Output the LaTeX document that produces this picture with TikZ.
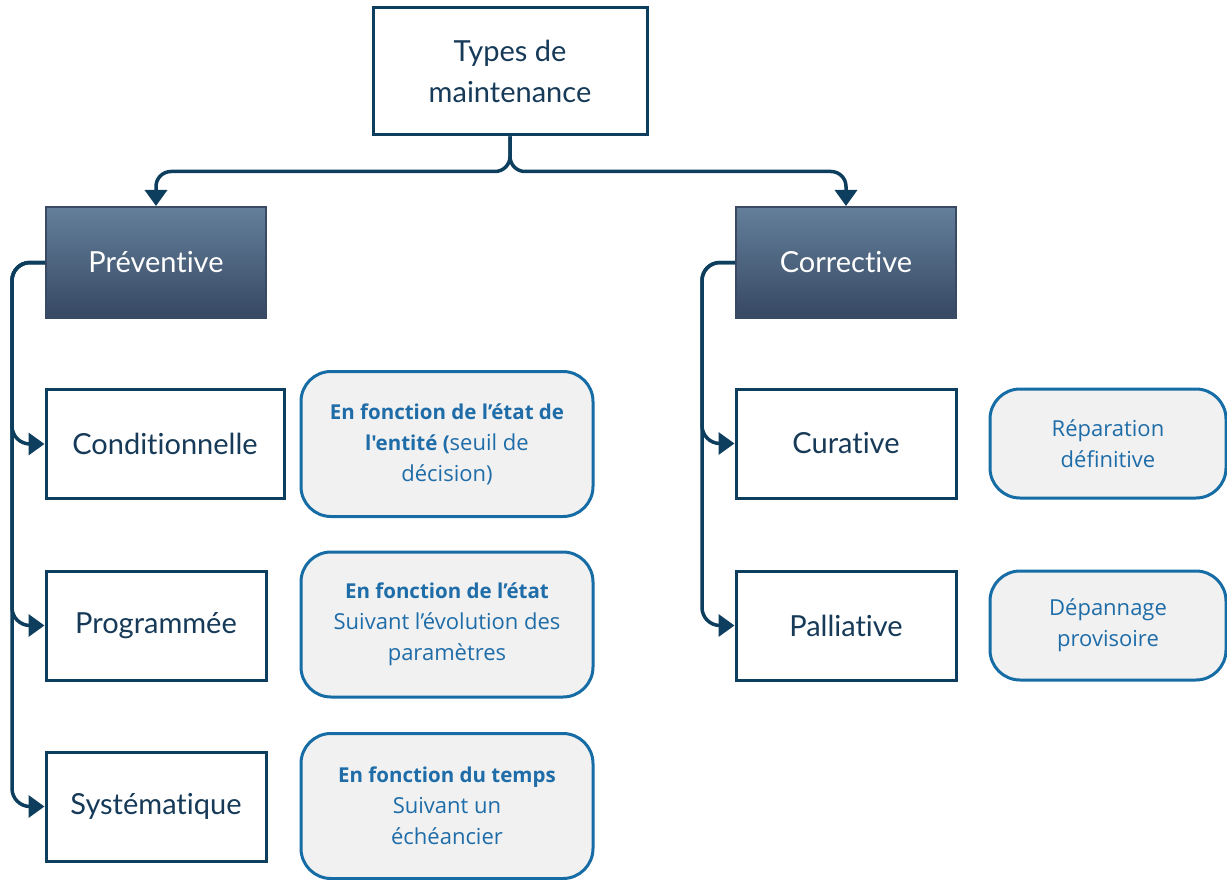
\documentclass[tikz,border=0pt]{standalone}
\usepackage{fontspec}
\setmainfont[Ligatures={TeX,NoCommon}]{Lato}
\newfontfamily\descfont{Open Sans}
\usetikzlibrary{arrows.meta}

\definecolor{lignebleu}{RGB}{14,62,94}
\definecolor{textenavy}{RGB}{22,58,88}
\definecolor{cathaut}{RGB}{100,127,154}
\definecolor{catbas}{RGB}{54,72,99}
\definecolor{catbord}{RGB}{58,74,98}
\definecolor{descbord}{RGB}{22,108,165}
\definecolor{descfond}{RGB}{241,241,241}
\definecolor{desctexte}{RGB}{30,108,168}

\newcommand{\grastitre}[1]{{\bfseries\fontsize{20.5}{31}\selectfont #1}}

\tikzset{
	typebox/.style={rectangle, draw=lignebleu, line width=3pt, fill=white, text=textenavy, minimum width=220pt, minimum height=109pt, align=center, font=\fontsize{29}{41}\selectfont},
	catbox/.style={rectangle, draw=catbord, line width=2pt, top color=cathaut, bottom color=catbas, text=white, minimum width=220pt, minimum height=111pt, font=\fontsize{29}{41}\selectfont},
	descbox/.style={rectangle, rounded corners=30pt, draw=descbord, line width=3pt, fill=descfond, text=desctexte, minimum width=292pt, minimum height=145pt, align=center, font=\descfont\fontsize{22}{31}\selectfont},
	lien/.style={draw=lignebleu, line width=3.5pt, -{Triangle[length=16pt,width=22pt]}, rounded corners=18pt}
}

\begin{document}
\begin{tikzpicture}[x=1pt, y=-1pt]
	\useasboundingbox (0,0) rectangle (1227,880);

	\node[typebox, minimum width=274pt, minimum height=127pt] (types) at (510,71.5) {Types de\\maintenance};
	\node[catbox] (prev) at (156,262.5) {Préventive};
	\node[catbox] (corr) at (846,262.5) {Corrective};

	\node[typebox, minimum width=238pt] (cond) at (165,444) {Conditionnelle};
	\node[typebox] (prog) at (156,625.5) {Programmée};
	\node[typebox] (syst) at (156,806.5) {Systématique};
	\node[typebox] (cura) at (846,443.5) {Curative};
	\node[typebox] (pall) at (846,625.5) {Palliative};

	\node[descbox] (dcond) at (447,444) {\grastitre{En fonction de l’état de}\\\grastitre{l'entité (}seuil de\\décision)};
	\node[descbox] (dprog) at (447,624.5) {\grastitre{En fonction de l’état}\\Suivant l’évolution des\\paramètres};
	\node[descbox] (dsyst) at (447,806) {\grastitre{En fonction du temps}\\Suivant un\\échéancier};
	\node[descbox, minimum width=236pt, minimum height=109pt] (dcura) at (1108,443.5) {Réparation\\définitive};
	\node[descbox, minimum width=236pt, minimum height=109pt] (dpall) at (1108,625.5) {Dépannage\\provisoire};

	\coordinate (gauche) at (12,262.5);
	\coordinate (droite) at (702,262.5);

	\draw[lien, rounded corners=15pt] (types.south) -- ++(0,35) -| (prev.north);
	\draw[lien, rounded corners=15pt] (types.south) -- ++(0,35) -| (corr.north);
	\draw[lien] (prev.west) -- (gauche) |- (cond.west);
	\draw[lien] (prev.west) -- (gauche) |- (prog.west);
	\draw[lien] (prev.west) -- (gauche) |- (syst.west);
	\draw[lien] (corr.west) -- (droite) |- (cura.west);
	\draw[lien] (corr.west) -- (droite) |- (pall.west);
\end{tikzpicture}
\end{document}
